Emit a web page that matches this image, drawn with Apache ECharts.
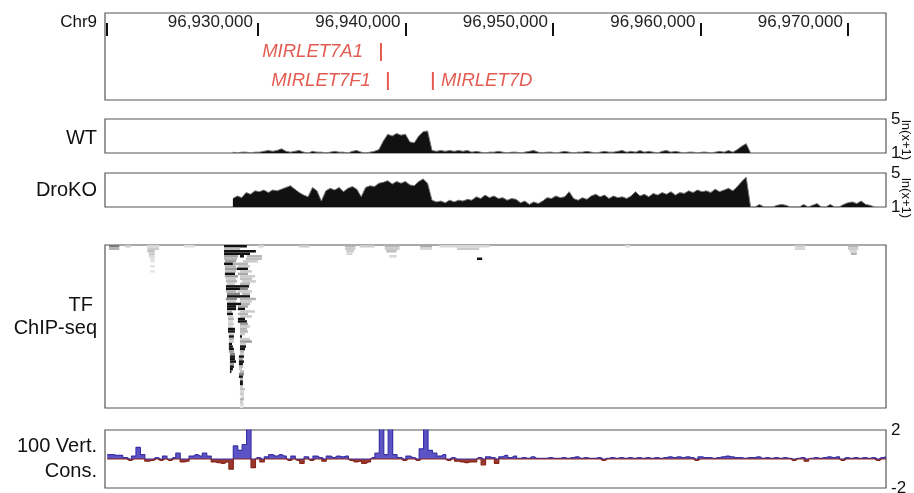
<!DOCTYPE html>
<html>
<head>
<meta charset="utf-8">
<script src="https://cdn.jsdelivr.net/npm/echarts@6/dist/echarts.min.js"></script>
<style>
  html, body { margin: 0; padding: 0; background: #fff; }
  #chart { width: 914px; height: 493px; }
</style>
</head>
<body>
<div id="chart"></div>
<script>
// region shown (chr9, bp)
const regionMin = 96919630
const regionMax = 96972580
const tickValues = [96919760, 96930000, 96940000, 96950000, 96960000, 96970000]
const labelValues = [96930000, 96940000, 96950000, 96960000, 96970000]

// miRNA genes
const geneNames = ['MIRLET7A1', 'MIRLET7F1', 'MIRLET7D']
const genePos = [96938340, 96938810, 96941860]
const geneRow = [1, 2, 2]

// RNA-seq coverage, ln(x+1), 300 bp bins
const sigStart = 96928150
const sigBin = 300
const wtValues = [
  1.1, 1.0, 1.1, 1.1, 1.0, 1.1, 1.1, 1.2, 1.3, 1.2, 1.3, 1.5, 1.2, 1.1, 1.2, 1.3, 1.1, 1.0, 1.2, 1.1,
  1.1, 1.0, 1.1, 1.2, 1.1, 1.1, 1.0, 1.2, 1.3, 1.1, 1.0, 1.1, 1.2, 1.4, 2.4, 3.2, 3.0, 3.3, 3.1, 3.2,
  2.3, 2.2, 3.0, 3.5, 3.6, 1.3, 1.2, 1.3, 1.2, 1.3, 1.2, 1.3, 1.2, 1.3, 1.1, 1.2, 1.1, 1.0, 1.1, 1.1,
  1.2, 1.1, 1.0, 1.1, 1.1, 1.0, 1.1, 1.2, 1.3, 1.1, 1.0, 1.1, 1.1, 1.0, 1.1, 1.2, 1.1, 1.0, 1.1, 1.1,
  1.2, 1.1, 1.0, 1.1, 1.2, 1.1, 1.1, 1.2, 1.3, 1.1, 1.2, 1.1, 1.3, 1.1, 1.2, 1.1, 1.0, 1.2, 1.3, 1.1,
  1.2, 1.1, 1.0, 1.1, 1.1, 1.0, 1.1, 1.1, 1.0, 1.1, 1.2, 1.1, 1.3, 1.1, 1.4, 1.8, 2.1, 1.0
]
const drokoValues = [
  2.0, 2.3, 2.1, 2.7, 2.5, 2.9, 2.8, 3.0, 2.7, 3.0, 2.9, 3.1, 3.3, 3.5, 3.1, 2.7, 2.4, 2.2, 3.3, 2.9,
  1.7, 2.9, 3.2, 3.0, 3.3, 2.8, 3.2, 3.4, 3.1, 2.2, 3.3, 3.5, 3.4, 3.8, 3.9, 4.1, 3.7, 4.0, 3.8, 4.0,
  3.6, 3.5, 4.0, 4.3, 3.8, 1.8, 1.6, 1.7, 1.5, 1.8, 1.6, 1.8, 1.7, 1.9, 1.8, 2.2, 2.0, 2.4, 2.1, 2.3,
  2.0, 2.1, 1.8, 2.0, 1.9, 1.5, 1.7, 1.3, 1.6, 1.4, 1.7, 2.1, 2.0, 2.3, 2.1, 2.2, 2.8, 2.0, 1.8, 2.1,
  1.9, 2.3, 2.5, 2.2, 2.4, 2.0, 2.3, 2.1, 2.2, 2.0, 2.3, 2.8, 2.3, 2.5, 2.2, 2.6, 2.4, 2.7, 2.5, 2.8,
  2.4, 2.7, 2.6, 2.9, 2.7, 3.0, 2.8, 2.9, 2.7, 3.1, 2.8, 3.0, 3.2, 2.9, 3.4, 4.0, 4.5, 1.0, 1.0, 1.3,
  1.0, 1.0, 1.0, 1.2, 1.3, 1.2, 1.0, 1.0, 1.0, 1.3, 1.0, 1.2, 1.4, 1.0, 1.0, 1.3, 1.0, 1.0, 1.3, 1.5,
  1.6, 1.4, 1.7, 1.3, 1.2, 1.0
]

// 100 vertebrate conservation (phyloP), 300 bp bins from regionMin
const consStart = 96919630
const consBin = 300
const consValues = [
  0.3, 0.3, 0.25, 0.25, 0.1, -0.1, 0.2, 0.8, 0.3, -0.15, -0.1, 0.1, -0.1, 0.2, -0.1, 0.1, 0.4, -0.2, -0.15, 0.2,
  0.3, 0.2, 0.4, 0.2, -0.2, -0.25, -0.3, -0.2, -0.7, 0.9, 0.6, 1.0, 2.2, -0.6, 0.1, -0.2, 0.15, 0.3, 0.2, 0.3,
  0.2, -0.1, 0.2, -0.1, -0.3, 0.15, -0.1, 0.2, 0.1, -0.15, 0.2, 0.1, 0.2, 0.15, 0.2, -0.1, -0.2, -0.15, -0.3, -0.2,
  0.1, 0.4, 2.2, 0.3, 2.2, 0.3, 0.1, -0.1, 0.2, 0.1, -0.1, 0.7, 2.2, 0.6, 0.4, 0.2, 0.3, -0.1, 0.1, -0.15,
  -0.2, -0.25, -0.2, -0.2, 0.1, -0.4, 0.15, 0.1, -0.3, 0.15, 0.25, 0.1, 0.2, 0.05, 0.1, 0.05, 0.15, 0.05, 0.05, 0.05,
  0.1, 0.05, 0.05, 0.1, 0.05, 0.1, 0.15, 0.05, 0.1, 0.05, 0.05, 0.1, -0.1, 0.05, 0.1, 0.05, 0.1, 0.05, 0.1, 0.05,
  0.1, 0.05, 0.1, 0.05, 0.1, 0.05, 0.1, 0.15, 0.1, 0.15, 0.1, 0.15, 0.1, -0.1, 0.15, 0.1, 0.1, 0.05, 0.1, 0.15,
  0.2, 0.15, 0.1, 0.1, 0.05, 0.1, 0.1, 0.15, 0.05, 0.1, 0.05, 0.1, 0.05, 0.1, 0.05, -0.1, 0.05, 0.1, -0.15, 0.05,
  0.1, 0.05, 0.1, 0.15, 0.1, 0.15, -0.1, 0.1, 0.05, 0.1, 0.05, 0.1, 0.05, 0.1, -0.1, 0.1, 0.15
]

// TF ChIP-seq peaks, one list per dataset: [start, end, signal 0..1]
const chipRows = [
  [[96919900, 96920600, .55], [96921000, 96921400, .2], [96922500, 96923300, .15], [96925000, 96925700, .12], [96927700, 96929250, 1], [96930000, 96930400, .15], [96932800, 96933500, .2], [96935900, 96936600, .3], [96936900, 96937900, .2], [96938600, 96939600, .3], [96941000, 96941800, .35], [96942300, 96945700, .15], [96954900, 96955200, .12], [96966400, 96967100, .2], [96970000, 96970700, .3]],
  [[96919900, 96920600, .3], [96922500, 96923300, .2], [96927700, 96928780, .25], [96935900, 96936600, .2], [96938600, 96939600, .2], [96941000, 96941800, .15], [96943500, 96945000, .2], [96966400, 96967100, .15], [96970000, 96970700, .2]],
  [[96922500, 96923000, .25], [96927700, 96929860, 1], [96936000, 96936500, .2], [96938700, 96939400, .25], [96970100, 96970600, .15]],
  [[96922600, 96923000, .2], [96927700, 96929460, 1], [96936000, 96936400, .15], [96970200, 96970600, .3]],
  [[96922600, 96923000, .15], [96927700, 96928640, .4], [96928780, 96929050, 1], [96929250, 96930270, .3], [96938900, 96939400, .15]],
  [[96922700, 96923000, .12], [96927700, 96928580, .3], [96929190, 96930270, .25], [96944850, 96945200, 1]],
  [[96922700, 96923000, .1], [96927760, 96928510, .4], [96928980, 96929990, .2]],
  [[96927700, 96928300, 1], [96928300, 96929320, .3]],
  [[96922700, 96923000, .1], [96927760, 96928510, .3], [96928640, 96929460, .2]],
  [[96927760, 96928580, .4], [96928580, 96929320, 1]],
  [[96922700, 96923000, .1], [96927760, 96928510, .25], [96928780, 96929590, .2]],
  [[96927760, 96928440, 1], [96928640, 96929320, .35]],
  [[96927760, 96928640, .4], [96928780, 96929800, .2]],
  [[96927830, 96928510, .2], [96928780, 96929590, .25]],
  [[96927830, 96928580, .3], [96928920, 96929860, .2]],
  [[96927900, 96928440, .2], [96928780, 96929460, .3]],
  [[96927830, 96929390, 1]],
  [[96927830, 96928780, 1], [96928780, 96929320, .5]],
  [[96927830, 96928510, .3], [96928640, 96929590, .2]],
  [[96927900, 96928780, .5], [96928920, 96929460, .3]],
  [[96927900, 96929460, 1]],
  [[96927830, 96928580, .5], [96928780, 96929860, .3]],
  [[96927900, 96928510, .2], [96928780, 96929590, .2]],
  [[96927900, 96928850, 1], [96928850, 96929460, .3]],
  [[96927900, 96928510, 1], [96928640, 96929320, .35]],
  [[96927900, 96928510, 1], [96928640, 96929120, 1]],
  [[96927900, 96928240, .3], [96928780, 96929800, .2]],
  [[96927900, 96928300, 1], [96928640, 96929320, .3]],
  [[96927970, 96928300, .2], [96928780, 96929590, .2]],
  [[96927970, 96928370, .3], [96928640, 96929120, 1]],
  [[96927970, 96928300, .15], [96928640, 96929250, 1]],
  [[96927970, 96928370, .2], [96928780, 96929320, .4]],
  [[96927970, 96928300, .15], [96928780, 96929460, .2]],
  [[96927970, 96928440, 1], [96928780, 96929250, .3]],
  [[96927970, 96928440, 1], [96928780, 96929320, .3]],
  [[96928030, 96928370, .2], [96928780, 96929120, .2]],
  [[96928030, 96928370, 1], [96928780, 96928920, 1]],
  [[96928030, 96928370, .3], [96928780, 96929460, .2]],
  [[96928030, 96928370, .2], [96928780, 96929590, .4]],
  [[96928030, 96928240, 1], [96928780, 96929190, .2]],
  [[96928030, 96928300, 1], [96928780, 96929190, 1]],
  [[96928030, 96928370, 1], [96928780, 96929120, 1]],
  [[96928030, 96928370, .4], [96928780, 96929050, .3]],
  [[96928100, 96928440, .5], [96928780, 96929050, .2]],
  [[96928100, 96928440, 1], [96928710, 96929050, 1]],
  [[96928100, 96928440, 1], [96928710, 96928980, .4]],
  [[96928100, 96928510, 1], [96928710, 96929050, 1]],
  [[96928100, 96928370, .4], [96928710, 96928980, 1]],
  [[96928100, 96928370, 1], [96928710, 96928980, .3]],
  [[96928100, 96928300, 1], [96928710, 96928920, .2]],
  [[96928100, 96928170, 1], [96928780, 96929050, .3]],
  [[96928710, 96929050, .5]],
  [[96928710, 96928980, 1]],
  [[96928780, 96928980, .3]],
  [[96928780, 96928980, 1]],
  [[96928780, 96928980, 1]],
  [[96928780, 96928980, .2]],
  [[96928780, 96929120, .25]],
  [[96928780, 96929050, .15]],
  [[96928780, 96929050, .2]],
  [[96928850, 96929050, .15]],
  [[96928780, 96929050, .3]],
  [[96928780, 96928980, .2]],
  [[96928780, 96929050, .15]],
  [[96928780, 96928980, .1]]
]

const FONT = 'Liberation Sans, Arial, Helvetica, sans-serif'
const RED = '#dc3226'
const geneLabelSide = ['left', 'left', 'right']
const geneLabelGap = [17, 16, 7]

const binned = (start, bin, vals) => vals.map((v, i) => [start + (i + 0.5) * bin, v])
const chipData = []
chipRows.forEach((segs, r) => segs.forEach(s => chipData.push([s[0], s[1], r, s[2]])))

const grids = [
  { top: 13, height: 87 },
  { top: 119, height: 34 },
  { top: 173, height: 34 },
  { top: 245, height: 163 },
  { top: 430, height: 58 }
].map(g => Object.assign({
  left: 105, right: 28, show: true, borderColor: '#555', borderWidth: 1.2,
  backgroundColor: '#fff', containLabel: false, outerBoundsMode: 'none'
}, g))

const hiddenX = i => ({ type: 'value', gridIndex: i, min: regionMin, max: regionMax, show: false })

const trackY = (i, lo, hi) => ({
  type: 'value', gridIndex: i, min: lo, max: hi, position: 'right',
  axisLine: { show: false }, axisTick: { show: false }, splitLine: { show: false },
  axisLabel: { customValues: [lo, hi], color: '#111', fontSize: 17, fontFamily: FONT, margin: 5 }
})

const leftText = (text, x, y, size) => ({
  type: 'text', x: x, y: y,
  style: { text: text, font: size + 'px ' + FONT, fill: '#111', align: 'right', verticalAlign: 'middle' }
})
// y-axis unit, written downwards beside the track
const unitText = y => ({
  type: 'text', x: 906, y: y, rotation: -Math.PI / 2,
  style: { text: 'ln(x+1)', font: '13px ' + FONT, fill: '#111', align: 'center', verticalAlign: 'middle' }
})

const option = {
  animation: false,
  backgroundColor: '#fff',
  grid: grids,
  xAxis: [
    {
      type: 'value', gridIndex: 0, min: regionMin, max: regionMax, position: 'top',
      axisLine: { show: false }, splitLine: { show: false },
      axisTick: { show: true, inside: true, length: 13, customValues: tickValues, lineStyle: { color: '#111', width: 2 } },
      axisLabel: {
        inside: true, customValues: labelValues, margin: 9, align: 'right', verticalAlign: 'middle',
        padding: [0, 5, 0, 0], color: '#222', fontSize: 17, fontFamily: FONT,
        formatter: v => v.toLocaleString('en-US')
      }
    },
    hiddenX(1), hiddenX(2), hiddenX(3), hiddenX(4)
  ],
  yAxis: [
    { type: 'value', gridIndex: 0, min: -0.345, max: 2.655, inverse: true, show: false },
    trackY(1, 1, 5),
    trackY(2, 1, 5),
    { type: 'value', gridIndex: 3, min: 0, max: chipRows.length, inverse: true, show: false },
    trackY(4, -2, 2)
  ],
  graphic: [
    leftText('Chr9', 97, 22, 17),
    leftText('WT', 97, 138, 20),
    leftText('DroKO', 97, 190, 20),
    leftText('TF', 93, 305, 20),
    leftText('ChIP-seq', 97, 328, 20),
    leftText('100 Vert.', 97, 446, 20),
    leftText('Cons.', 97, 471, 20),
    unitText(140),
    unitText(198)
  ],
  series: [
    {
      type: 'scatter', xAxisIndex: 0, yAxisIndex: 0, symbol: 'rect', symbolSize: [2, 18],
      itemStyle: { color: RED },
      data: geneNames.map((n, i) => ({
        name: n, value: [genePos[i], geneRow[i]],
        label: { show: true, position: geneLabelSide[i], distance: geneLabelGap[i], formatter: '{b}', color: RED, fontStyle: 'italic', fontSize: 18.5, fontFamily: FONT }
      }))
    },
    {
      type: 'line', xAxisIndex: 1, yAxisIndex: 1, symbol: 'none',
      lineStyle: { color: '#777', width: 1 }, areaStyle: { color: '#111', opacity: 1, origin: 'start' },
      data: binned(sigStart, sigBin, wtValues)
    },
    {
      type: 'line', xAxisIndex: 2, yAxisIndex: 2, symbol: 'none',
      lineStyle: { color: '#777', width: 1 }, areaStyle: { color: '#111', opacity: 1, origin: 'start' },
      data: binned(sigStart, sigBin, drokoValues)
    },
    {
      type: 'custom', xAxisIndex: 3, yAxisIndex: 3,
      encode: { x: [0, 1], y: 2 },
      renderItem: (params, api) => {
        const p0 = api.coord([api.value(0), api.value(2)])
        const p1 = api.coord([api.value(1), api.value(2) + 1])
        const g = Math.round(250 - api.value(3) * 233)
        return {
          type: 'rect',
          shape: { x: p0[0], y: p0[1], width: Math.max(p1[0] - p0[0], 1.5), height: p1[1] - p0[1] },
          style: { fill: 'rgb(' + g + ',' + g + ',' + g + ')' }
        }
      },
      data: chipData
    },
    {
      type: 'line', xAxisIndex: 4, yAxisIndex: 4, symbol: 'none', step: 'middle',
      lineStyle: { color: '#3a30a8', width: 1.2 }, areaStyle: { color: '#5c54c4', opacity: 1, origin: 0 },
      data: binned(consStart, consBin, consValues).map(d => [d[0], Math.max(d[1], 0)])
    },
    {
      type: 'line', xAxisIndex: 4, yAxisIndex: 4, symbol: 'none', step: 'middle',
      lineStyle: { color: '#8a2418', width: 1.2 }, areaStyle: { color: '#9a3a2e', opacity: 1, origin: 0 },
      data: binned(consStart, consBin, consValues).map(d => [d[0], Math.min(d[1], 0)])
    }
  ]
}

const chart = echarts.init(document.getElementById('chart'))
chart.setOption(option)
</script>
</body>
</html>
